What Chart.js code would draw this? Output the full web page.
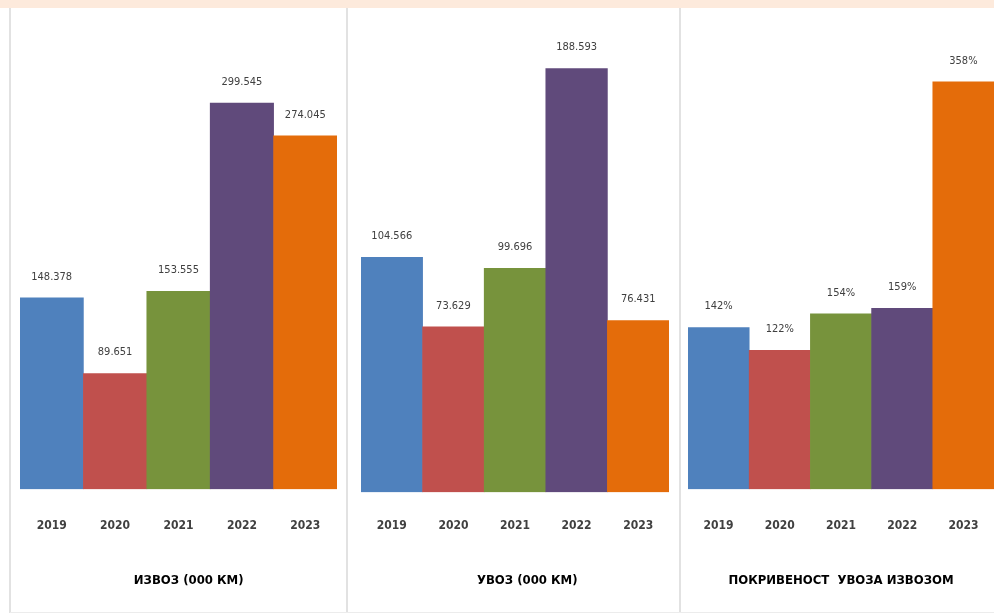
<!DOCTYPE html>
<html>
<head>
<meta charset="utf-8">
<script src="https://cdn.jsdelivr.net/npm/chart.js@4.4.1/dist/chart.umd.min.js"></script>
<style>
  html, body { margin: 0; padding: 0; background: #ffffff; }
  body { width: 994px; height: 615px; position: relative; overflow: hidden; }
  #strip { position: absolute; left: 0; top: 0; width: 994px; height: 8px; background: #fdeadc; }
  .panel { position: absolute; top: 8px; height: 605px; }
  .vline { position: absolute; top: 8px; width: 2px; height: 605px; background: #e2e2e2; }
  #hline { position: absolute; left: 10px; top: 612px; width: 984px; height: 1px; background: #ececec; }
</style>
</head>
<body>
<div id="strip"></div>
<div class="panel" id="p1" style="left:10px;width:338px;"><canvas id="c1"></canvas></div>
<div class="panel" id="p2" style="left:348px;width:332px;"><canvas id="c2"></canvas></div>
<div class="panel" id="p3" style="left:680px;width:314px;"><canvas id="c3"></canvas></div>
<div class="vline" style="left:9px;"></div>
<div class="vline" style="left:346px;"></div>
<div class="vline" style="left:679px;"></div>
<div id="hline"></div>
<script>
const years = ['2019', '2020', '2021', '2022', '2023'];
const exportValues = [148.378, 89.651, 153.555, 299.545, 274.045];
const importValues = [104.566, 73.629, 99.696, 188.593, 76.431];
const coverageValues = [142, 122, 154, 159, 358];
const barColors = ['#4f81bd', '#c0504d', '#77933c', '#604a7b', '#e46c0a'];
const titles = ['ИЗВОЗ (000 КМ)', 'УВОЗ (000 КМ)', 'ПОКРИВЕНОСТ  УВОЗА ИЗВОЗОМ'];

const FONT = "'Liberation Sans Narrow', 'DejaVu Sans Condensed', 'Roboto Condensed', sans-serif";
const NB = '\u00a0';

const valueLabels = {
  id: 'valueLabels',
  afterDatasetsDraw(chart, args, opts) {
    const ctx = chart.ctx;
    const meta = chart.getDatasetMeta(0);
    const data = chart.data.datasets[0].data;
    ctx.save();
    ctx.font = '11px ' + FONT;
    ctx.fillStyle = '#404040';
    ctx.textAlign = 'center';
    ctx.textBaseline = 'middle';
    meta.data.forEach((bar, i) => {
      ctx.fillText(opts.fmt(data[i]), bar.x, bar.y - 21);
    });
    ctx.restore();
  }
};

function makeChart(id, values, title, fmt, yMax, pad, tickLen) {
  new Chart(document.getElementById(id), {
    type: 'bar',
    data: {
      labels: years,
      datasets: [{
        data: values,
        backgroundColor: barColors,
        borderWidth: 0,
        categoryPercentage: 1.0,
        barPercentage: 1.0
      }]
    },
    options: {
      responsive: true,
      maintainAspectRatio: false,
      animation: false,
      layout: { padding: { top: pad.top, left: pad.left, right: pad.right, bottom: 0 } },
      plugins: {
        legend: { display: false },
        tooltip: { enabled: false },
        valueLabels: { fmt: fmt }
      },
      scales: {
        x: {
          grid: {
            display: true,
            drawOnChartArea: false,
            drawTicks: true,
            tickLength: tickLen,
            color: 'rgba(0,0,0,0)',
            tickColor: 'rgba(0,0,0,0)'
          },
          border: { display: false },
          ticks: {
            color: '#404040',
            padding: 2,
            font: { family: FONT, size: 12, weight: 'bold' }
          },
          title: {
            display: true,
            text: title,
            color: '#000000',
            font: { family: FONT, size: 13, weight: 'bold' },
            padding: { top: 38.3, bottom: 24.5 }
          }
        },
        y: {
          display: false,
          min: 0,
          max: yMax
        }
      }
    },
    plugins: [valueLabels]
  });
}

makeChart('c1', exportValues, NB.repeat(5) + titles[0], v => v.toFixed(3), 350, { top: 30, left: 10, right: 11 }, 27);
makeChart('c2', importValues, NB.repeat(6) + titles[1], v => v.toFixed(3), 200, { top: 35, left: 13, right: 11 }, 24);
makeChart('c3', coverageValues, titles[2], v => v + '%', 400, { top: 26, left: 8, right: 0 }, 27);
</script>
</body>
</html>
